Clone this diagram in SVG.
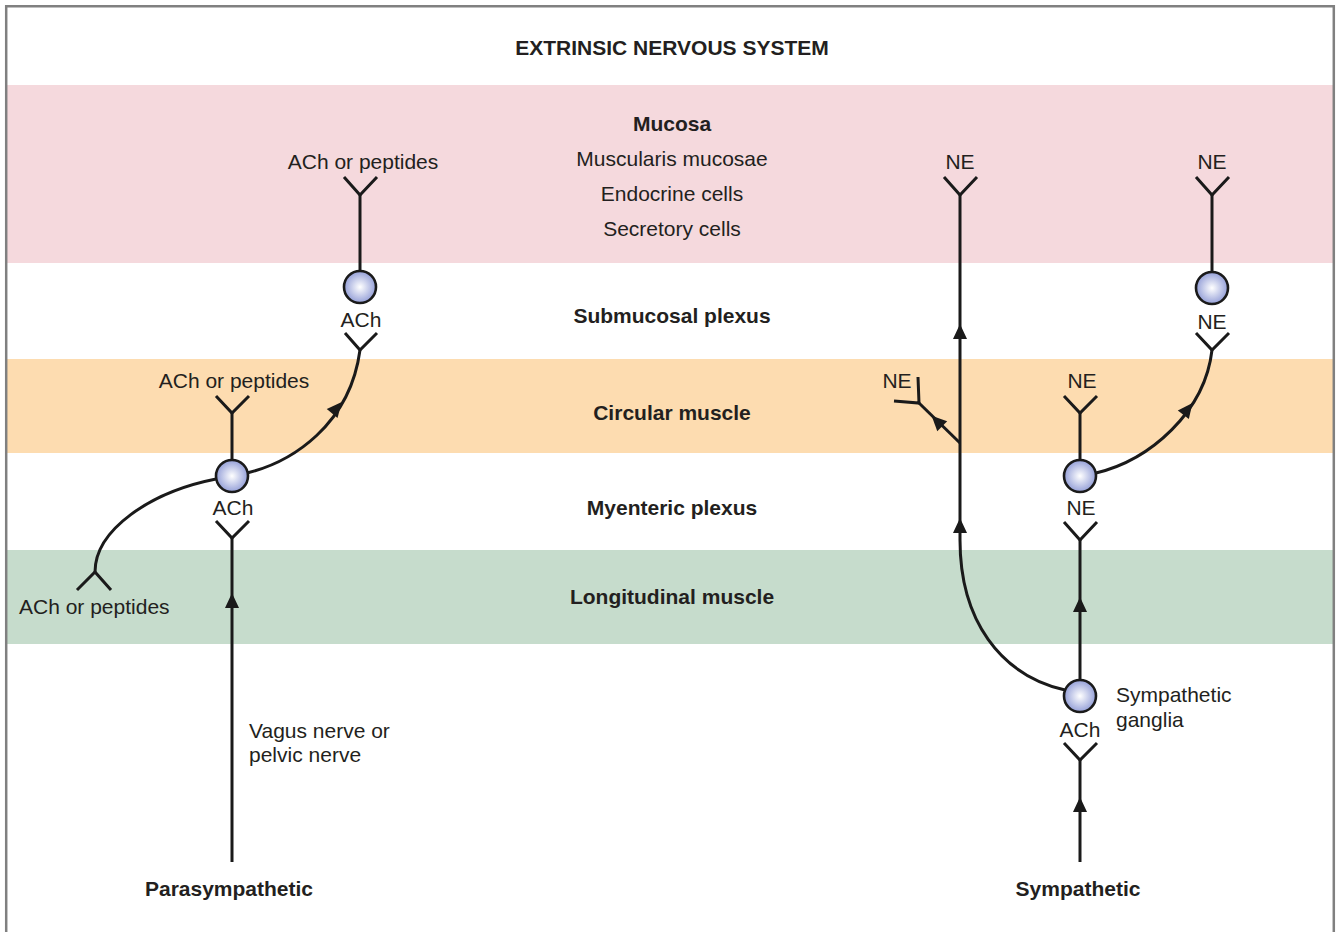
<svg xmlns="http://www.w3.org/2000/svg" width="1336" height="932" viewBox="0 0 1336 932">
<defs>
<radialGradient id="cg" cx="0.5" cy="0.5" r="0.55">
<stop offset="0" stop-color="#ffffff"/>
<stop offset="1" stop-color="#8a96d4"/>
</radialGradient>
<polygon id="ah" points="0,-9 7,6 -7,6" fill="#1a1a1a"/>
</defs>
<style>
text{font-family:"Liberation Sans",Arial,sans-serif;fill:#231f20;font-size:21px}
.b{font-weight:bold}
.m{text-anchor:middle}
.ln{fill:none;stroke:#1a1a1a;stroke-width:3;stroke-linejoin:miter}
.cell{fill:url(#cg);stroke:#1a1a1a;stroke-width:2.6}
</style>
<rect x="0" y="0" width="1336" height="932" fill="#ffffff"/>
<g id="bands">
<rect x="7" y="85" width="1326" height="178" fill="#f5d9dd"/>
<rect x="7" y="359" width="1326" height="94" fill="#fddcb0"/>
<rect x="7" y="550" width="1326" height="94" fill="#c6dccc"/>
</g>
<path d="M6.2,932 V6.2 H1333.8 V932" fill="none" stroke="#808080" stroke-width="2.5"/>
<g id="labels">
<text class="b m" x="672" y="55">EXTRINSIC NERVOUS SYSTEM</text>
<text class="b m" x="672" y="131">Mucosa</text>
<text class="m" x="672" y="166">Muscularis mucosae</text>
<text class="m" x="672" y="201">Endocrine cells</text>
<text class="m" x="672" y="236">Secretory cells</text>
<text class="b m" x="672" y="323">Submucosal plexus</text>
<text class="b m" x="672" y="420">Circular muscle</text>
<text class="b m" x="672" y="515">Myenteric plexus</text>
<text class="b m" x="672" y="604">Longitudinal muscle</text>
<text class="b m" x="229" y="896">Parasympathetic</text>
<text class="b m" x="1078" y="896">Sympathetic</text>
</g>
<g id="connectors">
<path class="ln" d="M232,862 V538"/>
<path class="ln" d="M216,521 L232,538 L249,521"/>
<path class="ln" d="M232,460 V413"/>
<path class="ln" d="M216,396 L232,413 L249,396"/>
<path class="ln" d="M247,473 C292,462 350,425 360,350"/>
<path class="ln" d="M345,333 L360,350 L377,333"/>
<path class="ln" d="M360,271 V195"/>
<path class="ln" d="M344,177 L360,195 L377,177"/>
<path class="ln" d="M216,479 C150,492 95,530 95,572"/>
<path class="ln" d="M77,590 L95,572 L111,590"/>
<use href="#ah" x="232" y="602"/>
<use href="#ah" transform="translate(336,409) rotate(40)"/>
<path class="ln" d="M1080,862 V760"/>
<path class="ln" d="M1064,743 L1080,760 L1097,743"/>
<path class="ln" d="M1080,680 V540"/>
<path class="ln" d="M1064,522 L1080,540 L1097,522"/>
<path class="ln" d="M1080,460 V413"/>
<path class="ln" d="M1064,396 L1080,413 L1097,396"/>
<path class="ln" d="M1096,473 C1150,460 1205,412 1212,350"/>
<path class="ln" d="M1196,333 L1212,350 L1229,333"/>
<path class="ln" d="M1212,272 V195"/>
<path class="ln" d="M1196,177 L1212,195 L1229,177"/>
<path class="ln" d="M1065,690 C1000,675 960,620 960,540 V195"/>
<path class="ln" d="M944,177 L960,195 L977,177"/>
<path class="ln" d="M960,443 L919,403"/>
<path class="ln" d="M918,377 L919,403 L894,401"/>
<use href="#ah" x="1080" y="806"/>
<use href="#ah" x="1080" y="606"/>
<use href="#ah" x="960" y="527"/>
<use href="#ah" x="960" y="333"/>
<use href="#ah" transform="translate(938,422) rotate(-45)"/>
<use href="#ah" transform="translate(1187,410) rotate(38)"/>
</g>
<g id="node-para-submucosal">
<circle class="cell" cx="360" cy="287" r="16"/>
<text class="m" x="361" y="327">ACh</text>
<text class="m" x="363" y="169">ACh or peptides</text>
</g>
<g id="node-para-myenteric">
<circle class="cell" cx="232" cy="476" r="16"/>
<text class="m" x="233" y="515">ACh</text>
<text class="m" x="234" y="388">ACh or peptides</text>
<text x="19" y="614">ACh or peptides</text>
<text x="249" y="738">Vagus nerve or</text>
<text x="249" y="762">pelvic nerve</text>
</g>
<g id="node-symp-ganglia">
<circle class="cell" cx="1080" cy="696" r="16"/>
<text class="m" x="1080" y="737">ACh</text>
<text x="1116" y="702">Sympathetic</text>
<text x="1116" y="727">ganglia</text>
</g>
<g id="node-symp-myenteric">
<circle class="cell" cx="1080" cy="476" r="16"/>
<text class="m" x="1081" y="515">NE</text>
<text class="m" x="1082" y="388">NE</text>
</g>
<g id="node-symp-submucosal">
<circle class="cell" cx="1212" cy="288" r="16"/>
<text class="m" x="1212" y="329">NE</text>
<text class="m" x="1212" y="169">NE</text>
</g>
<g id="node-symp-direct">
<text class="m" x="960" y="169">NE</text>
<text class="m" x="897" y="388">NE</text>
</g>
</svg>
